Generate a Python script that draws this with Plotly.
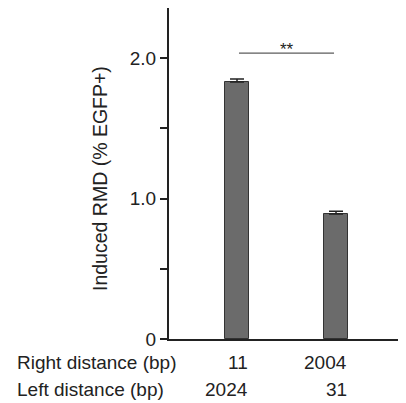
import plotly.graph_objects as go

# Data
positions = [0, 1]
values = [1.83, 0.89]
errors = [0.02, 0.02]
right_distance = ["11", "2004"]
left_distance = ["2024", "31"]
row_labels = ["Right distance (bp)", "Left distance (bp)"]
y_tickvals = [0, 0.5, 1.0, 1.5, 2.0]
y_ticktext = ["0", "", "1.0", "", "2.0"]
y_title = "Induced RMD (% EGFP+)"
sig_text = "**"
sig_level = 2.035

FONT = "Liberation Sans, Arial, Helvetica, sans-serif"
TXT = "#222222"
FS = 19

# page body has an 8px margin; figure is sized to fit the 406x403 window
W, H = 398, 395
ML, MR, MT, MB = 161, 0, 0, 64
PW, PH = W - ML - MR, H - MT - MB


def px_x(wx):
    return (wx - 8 - ML) / PW


def px_y(wy):
    return (H - MB - (wy - 8)) / PH


fig = go.Figure()
fig.add_trace(go.Bar(
    x=positions, y=values, width=0.242,
    marker=dict(color="#6b6b6b", line=dict(color="#333333", width=1)),
    error_y=dict(type="data", array=errors, arrayminus=[0, 0], visible=True,
                 color="#222222", thickness=1.5, width=7),
    hoverinfo="skip",
))

# significance bracket
fig.add_shape(type="line", xref="x", yref="y",
              x0=positions[0] + 0.02, x1=positions[1] - 0.02,
              y0=sig_level, y1=sig_level,
              line=dict(color="#333333", width=1))
fig.add_annotation(x=(positions[0] + positions[1]) / 2, y=sig_level,
                   xref="x", yref="y", text=sig_text, showarrow=False,
                   yanchor="bottom", yshift=-8,
                   font=dict(family=FONT, size=17, color=TXT))

# category labels under bars
rows_y = [px_y(362), px_y(389)]
for i, p in enumerate(positions):
    for r, lab in zip(rows_y, [right_distance[i], left_distance[i]]):
        fig.add_annotation(x=p, y=r, xref="x", yref="paper", text=lab,
                           showarrow=False, xanchor="right", yanchor="middle",
                           xshift=13,
                           font=dict(family=FONT, size=FS, color=TXT))
for r, lab in zip(rows_y, row_labels):
    fig.add_annotation(x=px_x(15), y=r, xref="paper", yref="paper", text=lab,
                       showarrow=False, xanchor="left", yanchor="middle",
                       font=dict(family=FONT, size=FS, color=TXT))

# y title
fig.add_annotation(x=px_x(100), y=px_y(179), xref="paper", yref="paper", text=y_title,
                   showarrow=False, textangle=-90, xanchor="center", yanchor="middle",
                   font=dict(family=FONT, size=19.5, color=TXT))

fig.update_layout(
    width=W, height=H,
    margin=dict(l=ML, r=MR, t=MT, b=MB, pad=0),
    paper_bgcolor="white", plot_bgcolor="white",
    showlegend=False,
    bargap=0,
    xaxis=dict(range=[-0.687, 1.707], showgrid=False, zeroline=False,
               showticklabels=False, ticks="", showline=True,
               linecolor="#222222", linewidth=2, fixedrange=True),
    yaxis=dict(range=[0, 2.356], showgrid=False, zeroline=False,
               tickvals=y_tickvals, ticktext=y_ticktext,
               ticks="outside", ticklen=7, tickwidth=2, tickcolor="#222222",
               showline=True, linecolor="#222222", linewidth=2,
               tickfont=dict(family=FONT, size=FS, color=TXT)),
)

fig.write_html("out.html")
